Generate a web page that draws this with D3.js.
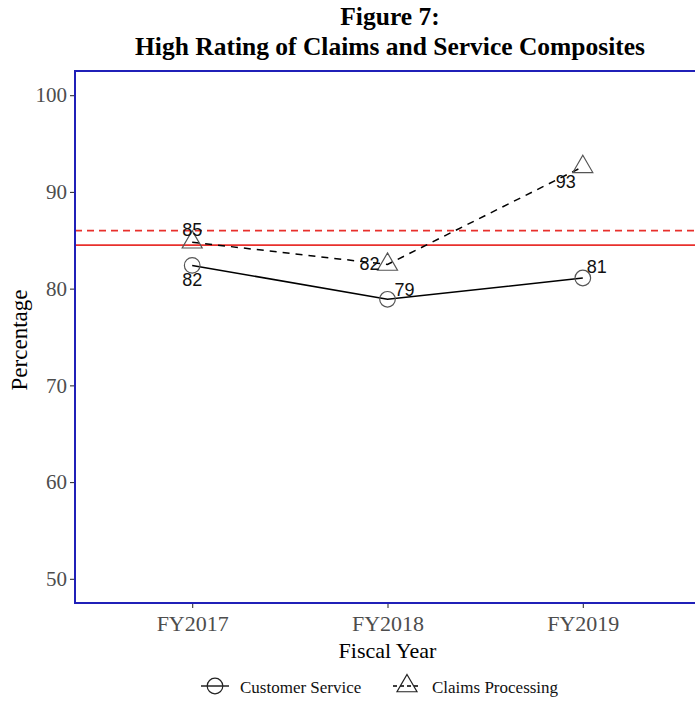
<!DOCTYPE html>
<html>
<head>
<meta charset="utf-8">
<script src="https://cdn.jsdelivr.net/npm/d3@7"></script>
<style>
  html, body { margin: 0; padding: 0; background: #fff; }
  svg { display: block; }
</style>
</head>
<body>
<svg id="chart" width="695" height="702"></svg>
<script>
// ---- data ----
const years = ["FY2017", "FY2018", "FY2019"];
const customerService = [82.4, 78.9, 81.1];
const claimsProcessing = [84.8, 82.5, 92.6];
const customerServiceLabels = ["82", "79", "81"];
const claimsProcessingLabels = ["85", "82", "93"];
const benchmarkSolid = 84.5;
const benchmarkDashed = 86;
const yTicks = [50, 60, 70, 80, 90, 100];
const seriesNames = ["Customer Service", "Claims Processing"];
const titleLines = ["Figure 7:", "High Rating of Claims and Service Composites"];

// ---- layout ----
const svg = d3.select("#chart");
const panel = { left: 75, right: 700, top: 71, bottom: 603 };
const serif = "'Liberation Serif', 'Times New Roman', serif";
const sans = "'Liberation Sans', Arial, sans-serif";

const x = d3.scalePoint().domain(years).range([panel.left, panel.right]).padding(0.6);
const y = d3.scaleLinear().domain([47.5, 102.5]).range([panel.bottom, panel.top]);

// title (two separate lines)
titleLines.forEach((t, i) => {
  svg.append("text")
    .attr("x", 390).attr("y", 25 + i * 29.5).attr("text-anchor", "middle")
    .attr("font-family", serif).attr("font-weight", "bold").attr("font-size", 25.5)
    .attr("fill", "#000").text(t);
});

// y axis
const yAxis = svg.append("g")
  .attr("transform", `translate(${panel.left},0)`)
  .call(d3.axisLeft(y).tickValues(yTicks).tickSize(5).tickPadding(3).tickFormat(d3.format("d")));
yAxis.select(".domain").remove();
yAxis.selectAll(".tick line").attr("stroke", "#333").attr("stroke-width", 1.1);
yAxis.selectAll(".tick text").attr("font-family", serif).attr("font-size", 21).attr("fill", "#4d4d4d");

// x axis
const xAxis = svg.append("g")
  .attr("transform", `translate(0,${panel.bottom})`)
  .call(d3.axisBottom(x).tickSize(5).tickPadding(7));
xAxis.select(".domain").remove();
xAxis.selectAll(".tick line").attr("stroke", "#333").attr("stroke-width", 1.1);
xAxis.selectAll(".tick text").attr("font-family", serif).attr("font-size", 22).attr("fill", "#4d4d4d");

// axis titles
svg.append("text")
  .attr("x", (panel.left + panel.right) / 2).attr("y", 658)
  .attr("text-anchor", "middle").attr("font-family", serif).attr("font-size", 22)
  .attr("fill", "#000").text("Fiscal Year");
svg.append("text")
  .attr("transform", `translate(27,${(panel.top + panel.bottom) / 2 + 3}) rotate(-90)`)
  .attr("text-anchor", "middle").attr("font-family", serif).attr("font-size", 23)
  .attr("fill", "#000").text("Percentage");

// benchmark lines
svg.append("line")
  .attr("x1", panel.left).attr("x2", panel.right)
  .attr("y1", y(benchmarkDashed)).attr("y2", y(benchmarkDashed))
  .attr("stroke", "#e8302c").attr("stroke-width", 1.8).attr("stroke-dasharray", "7,5");
svg.append("line")
  .attr("x1", panel.left).attr("x2", panel.right)
  .attr("y1", y(benchmarkSolid)).attr("y2", y(benchmarkSolid))
  .attr("stroke", "#e8302c").attr("stroke-width", 1.8);

// series lines
const line = d3.line().x((d, i) => x(years[i])).y(d => y(d));
svg.append("path").datum(customerService).attr("d", line)
  .attr("fill", "none").attr("stroke", "#000").attr("stroke-width", 1.5);
svg.append("path").datum(claimsProcessing).attr("d", line)
  .attr("fill", "none").attr("stroke", "#000").attr("stroke-width", 1.5)
  .attr("stroke-dasharray", "7,6");

// points
const circR = 7.8;
const triSide = 20;
const triPath = (cx, cy) => {
  const h = triSide * Math.sqrt(3) / 2;
  return `M${cx},${cy - 2 * h / 3}L${cx + triSide / 2},${cy + h / 3}L${cx - triSide / 2},${cy + h / 3}Z`;
};
svg.selectAll(".cs-pt").data(customerService).enter().append("circle")
  .attr("cx", (d, i) => x(years[i])).attr("cy", d => y(d)).attr("r", circR)
  .attr("fill", "none").attr("stroke", "#555").attr("stroke-width", 1.2);
svg.selectAll(".cp-pt").data(claimsProcessing).enter().append("path")
  .attr("d", (d, i) => triPath(x(years[i]), y(d)))
  .attr("fill", "none").attr("stroke", "#555").attr("stroke-width", 1.2);

// value labels (offsets are repel-style placements)
const csOffsets = [[0, 21], [17, -3], [14, -5]];
const cpOffsets = [[0, -6], [-18, 6], [-17, 21]];
svg.selectAll(".cs-lab").data(customerService).enter().append("text")
  .attr("x", (d, i) => x(years[i]) + csOffsets[i][0])
  .attr("y", (d, i) => y(d) + csOffsets[i][1])
  .attr("text-anchor", "middle").attr("font-family", sans).attr("font-size", 18)
  .attr("fill", "#111").text((d, i) => customerServiceLabels[i]);
svg.selectAll(".cp-lab").data(claimsProcessing).enter().append("text")
  .attr("x", (d, i) => x(years[i]) + cpOffsets[i][0])
  .attr("y", (d, i) => y(d) + cpOffsets[i][1])
  .attr("text-anchor", "middle").attr("font-family", sans).attr("font-size", 18)
  .attr("fill", "#111").text((d, i) => claimsProcessingLabels[i]);

// panel border
svg.append("rect")
  .attr("x", panel.left).attr("y", panel.top)
  .attr("width", panel.right - panel.left).attr("height", panel.bottom - panel.top)
  .attr("fill", "none").attr("stroke", "#2020b8").attr("stroke-width", 2);

// legend
const leg = svg.append("g");
const legY = 686;
const legItems = [
  { name: seriesNames[0], kx: 215, tx: 240, shape: "circle", dash: null },
  { name: seriesNames[1], kx: 407, tx: 432, shape: "triangle", dash: "4,3" }
];
legItems.forEach(it => {
  leg.append("line").attr("x1", it.kx - 14).attr("x2", it.kx + 14)
    .attr("y1", legY).attr("y2", legY)
    .attr("stroke", "#000").attr("stroke-width", 1.3)
    .attr("stroke-dasharray", it.dash);
  if (it.shape === "circle") {
    leg.append("circle").attr("cx", it.kx).attr("cy", legY).attr("r", circR)
      .attr("fill", "none").attr("stroke", "#222").attr("stroke-width", 1.2);
  } else {
    leg.append("path").attr("d", triPath(it.kx, legY))
      .attr("fill", "none").attr("stroke", "#222").attr("stroke-width", 1.2);
  }
  leg.append("text").attr("x", it.tx).attr("y", legY + 7)
    .attr("font-family", serif).attr("font-size", 17).attr("fill", "#111").text(it.name);
});
</script>
</body>
</html>
